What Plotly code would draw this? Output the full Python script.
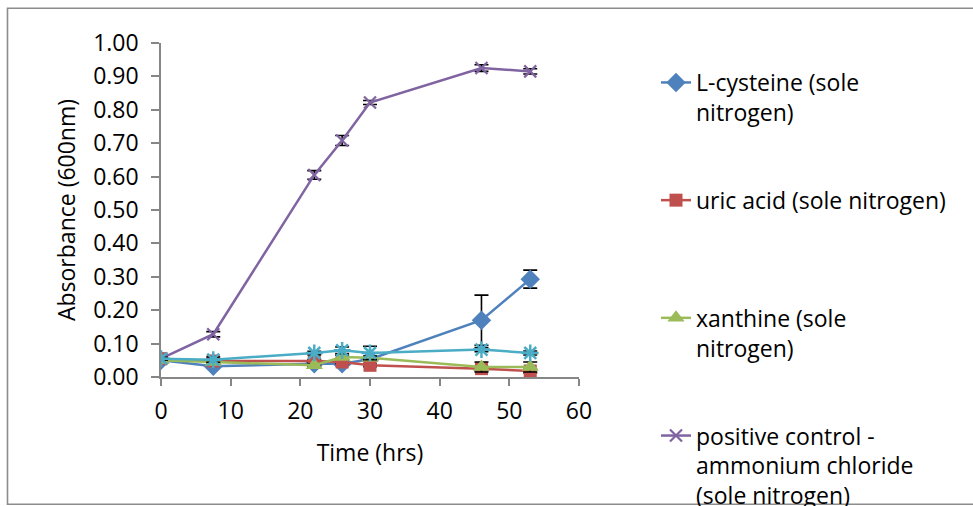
import plotly.graph_objects as go

# ---- data ----
time_hrs = [0, 7.5, 22, 26, 30, 46, 53]

lcys = [0.050, 0.032, 0.040, 0.040, 0.053, 0.170, 0.293]
lcys_err = [0.004, 0.004, 0.004, 0.005, 0.005, 0.075, 0.027]

uric = [0.055, 0.048, 0.048, 0.045, 0.035, 0.025, 0.018]
uric_err = [0.004, 0.004, 0.004, 0.005, 0.004, 0.006, 0.006]

xan = [0.050, 0.045, 0.035, 0.060, 0.058, 0.030, 0.030]
xan_err = [0.004, 0.004, 0.004, 0.005, 0.005, 0.015, 0.015]

pos = [0.055, 0.128, 0.605, 0.708, 0.822, 0.925, 0.915]
pos_err = [0.004, 0.008, 0.013, 0.015, 0.006, 0.010, 0.008]

extra = [0.055, 0.052, 0.072, 0.080, 0.072, 0.082, 0.072]
extra_err = [0.004, 0.008, 0.005, 0.010, 0.020, 0.006, 0.006]

names = [
    "L-cysteine (sole<br>nitrogen)<br> ",
    "uric acid (sole nitrogen)<br> <br> ",
    "xanthine (sole<br>nitrogen)<br> ",
    "positive control -<br>ammonium chloride<br>(sole nitrogen)",
]

FONT = "Open Sans"
FS = 23

# ---- layout geometry (pixels) ----
W, H = 973, 506
L, R, T, B = 161, 579, 43, 377


def px_x(p):
    return (p - L) / (R - L)


def px_y(p):
    return (B - p) / (B - T)


fig = go.Figure()

series = [
    (lcys, lcys_err, "#4F81BD", dict(symbol="diamond", size=15), names[0], True),
    (uric, uric_err, "#C0504D", dict(symbol="square", size=13), names[1], True),
    (xan, xan_err, "#9BBB59", dict(symbol="triangle-up", size=15), names[2], True),
    (pos, pos_err, "#8064A2", dict(symbol="x-thin-open", size=12,
                                    line=dict(width=2.2, color="#8064A2")), names[3], True),
    (extra, extra_err, "#4BACC6", dict(symbol="asterisk-open", size=14,
                                        line=dict(width=2.5, color="#4BACC6")), "series 5", False),
]

for i, (y, e, col, mk, nm, sl) in enumerate(series):
    mk = dict(mk)
    mk["color"] = col
    fig.add_trace(go.Scatter(
        x=time_hrs, y=y, name=nm, mode="lines+markers",
        line=dict(color=col, width=2.5),
        marker=mk,
        error_y=dict(type="data", array=e, visible=True, color="black",
                     thickness=1.6, width=7),
        showlegend=sl, legendgroup=f"g{i}",
    ))

axis_col = "#868686"
fig.update_layout(
    width=W, height=H,
    margin=dict(l=L, r=W - R, t=T, b=H - B, autoexpand=False),
    paper_bgcolor="white", plot_bgcolor="white",
    font=dict(family=FONT, size=FS, color="black"),
    xaxis=dict(range=[0, 60], dtick=10, tick0=0, showgrid=False, zeroline=False,
               showline=True, linecolor=axis_col, linewidth=1.5,
               ticks="outside", ticklen=7, tickcolor=axis_col, tickwidth=1.5,
               ticklabelstandoff=6,
               title=dict(text="Time (hrs)", standoff=20, font=dict(size=FS))),
    yaxis=dict(range=[0, 1.0], dtick=0.1, tick0=0, tickformat=".2f",
               showgrid=False, zeroline=False,
               showline=True, linecolor=axis_col, linewidth=1.5,
               ticks="outside", ticklen=8, tickcolor=axis_col, tickwidth=1.5,
               ticklabelstandoff=8,
               title=dict(text="Absorbance (600nm)", standoff=11, font=dict(size=FS))),
    legend=dict(x=px_x(656), y=px_y(61), xanchor="left", yanchor="top",
                valign="top", tracegroupgap=25, maxheight=2000,
                font=dict(family=FONT, size=FS), bgcolor="rgba(0,0,0,0)",
                itemwidth=30),
    showlegend=True,
)

# chart-area border
fig.add_shape(type="rect", xref="paper", yref="paper",
              x0=px_x(7.5), x1=px_x(1000), y0=px_y(504.3), y1=px_y(8.3),
              line=dict(color="#8c8c8c", width=1.6), fillcolor="rgba(0,0,0,0)",
              layer="below")

fig.write_html("out.html")
